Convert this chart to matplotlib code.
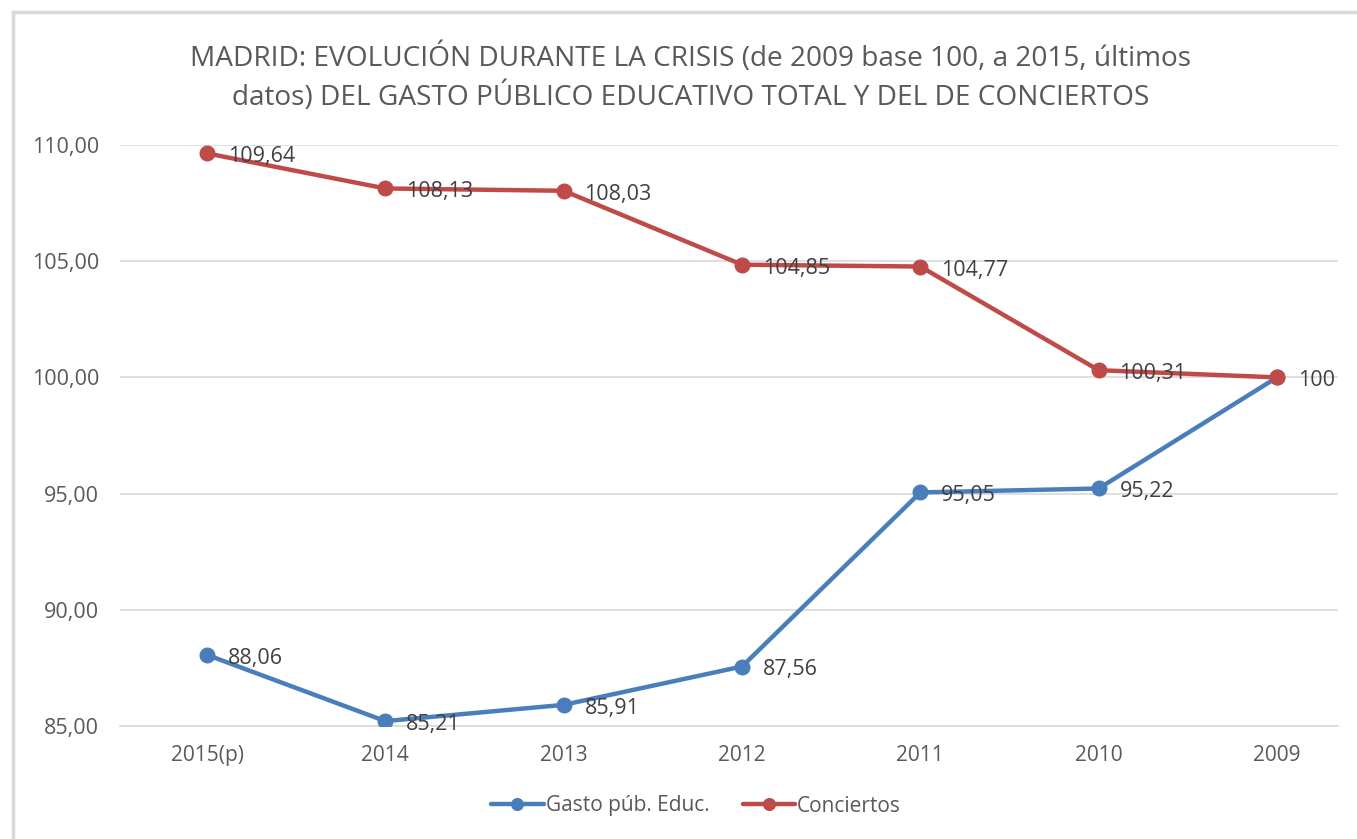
import matplotlib
matplotlib.use("Agg")
import matplotlib.pyplot as plt
from matplotlib.lines import Line2D

categories = ["2015(p)", "2014", "2013", "2012", "2011", "2010", "2009"]
gasto = [88.06, 85.21, 85.91, 87.56, 95.05, 95.22, 100]
conciertos = [109.64, 108.13, 108.03, 104.85, 104.77, 100.31, 100]
gasto_labels = ["88,06", "85,21", "85,91", "87,56", "95,05", "95,22", ""]
conc_labels = ["109,64", "108,13", "108,03", "104,85", "104,77", "100,31", "100"]
yticks = [85, 90, 95, 100, 105, 110]
ytick_labels = ["85,00", "90,00", "95,00", "100,00", "105,00", "110,00"]
title = ("MADRID: EVOLUCIÓN DURANTE LA CRISIS (de 2009 base 100, a 2015, últimos\n"
         "datos) DEL GASTO PÚBLICO EDUCATIVO TOTAL Y DEL DE CONCIERTOS")

plt.rcParams['font.family'] = ['Open Sans', 'DejaVu Sans']
BLUE = "#4a7ebb"
RED = "#be4b48"
TXT = "#595959"

W, H = 1357, 839
fig = plt.figure(figsize=(W / 100, H / 100), dpi=100)
ax = fig.add_axes([120 / W, 1 - 726 / H, (1338 - 120) / W, (726 - 145) / H])

# chart border
fig.add_artist(Line2D([13 / W, 13 / W], [0, 1 - 12 / H], transform=fig.transFigure,
                      color="#d9d9d9", lw=2.5))
fig.add_artist(Line2D([13 / W, 1], [1 - 12 / H, 1 - 12 / H], transform=fig.transFigure,
                      color="#d9d9d9", lw=2.5))

x = list(range(len(categories)))
ax.plot(x, gasto, color=BLUE, lw=3.2, marker="o", ms=10.5, label="Gasto púb. Educ.",
        solid_capstyle="round", zorder=3)
ax.plot(x, conciertos, color=RED, lw=3.2, marker="o", ms=10.5, label="Conciertos",
        solid_capstyle="round", zorder=3)

for xi, v, lab in zip(x, gasto, gasto_labels):
    if lab:
        ax.annotate(lab, (xi, v), xytext=(15, -2.5), textcoords="offset points",
                    ha="left", va="center", fontsize=15.5, color="#404040", zorder=4)
for xi, v, lab in zip(x, conciertos, conc_labels):
    ax.annotate(lab, (xi, v), xytext=(15, -2.5), textcoords="offset points",
                ha="left", va="center", fontsize=15.5, color="#404040", zorder=4)

ax.set_xlim(-87 / 178.33, 6 + 61 / 178.33)
ax.set_ylim(85, 110)
ax.set_yticks(yticks)
ax.set_yticklabels(ytick_labels, fontsize=15.5, color=TXT)
ax.set_xticks(x)
ax.set_xticklabels(categories, fontsize=15, color=TXT)
ax.tick_params(axis="both", length=0)
ax.tick_params(axis="y", pad=15)
ax.tick_params(axis="x", pad=14)
ax.grid(axis="y", color="#d9d9d9", lw=1.2)
ax.set_axisbelow(True)
for s in ["top", "right", "left"]:
    ax.spines[s].set_visible(False)
ax.spines["bottom"].set_color("#d9d9d9")
ax.spines["bottom"].set_linewidth(1.2)

fig.text(691 / W, 1 - 77 / H, title, ha="center", va="center", fontsize=20.2,
         color=TXT, linespacing=1.35)

leg = fig.legend(loc="center", bbox_to_anchor=(696 / W, 1 - 806 / H), ncol=2,
                 frameon=False, fontsize=15, handlelength=2.5, handletextpad=0.1,
                 columnspacing=1.6, labelcolor=TXT, markerscale=0.8)

fig.savefig("out.png", dpi=100, facecolor="white")
